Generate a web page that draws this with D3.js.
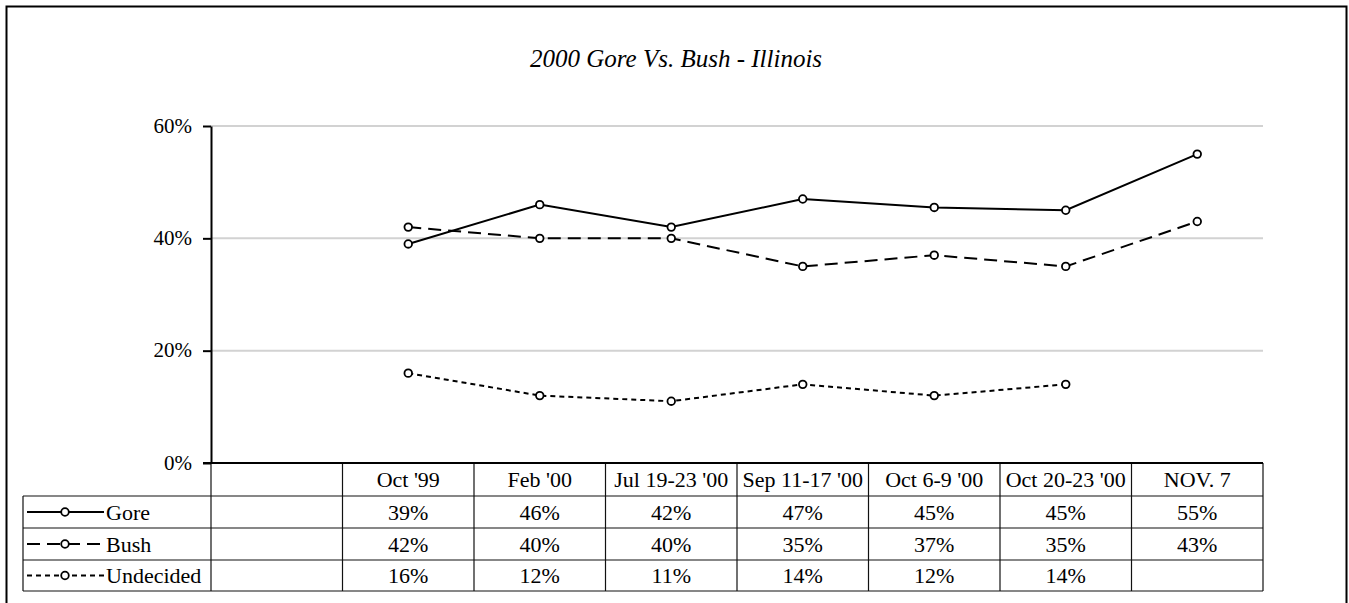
<!DOCTYPE html>
<html>
<head>
<meta charset="utf-8">
<script src="https://cdn.jsdelivr.net/npm/d3@7"></script>
<style>
  html, body { margin: 0; padding: 0; background: #fff; }
  svg { display: block; font-family: "Liberation Serif", "Times New Roman", serif; }
  svg text { font-family: "Liberation Serif", "Times New Roman", serif; }
</style>
</head>
<body>
<svg id="chart" width="1349" height="603"></svg>
<script>
// ---- data ----
const title = "2000 Gore Vs. Bush - Illinois";
const categories = ["", "Oct '99", "Feb '00", "Jul 19-23 '00", "Sep 11-17 '00", "Oct 6-9 '00", "Oct 20-23 '00", "NOV. 7"];
const seriesNames = ["Gore", "Bush", "Undecided"];
const goreValues = [null, 39, 46, 42, 47, 45.5, 45, 55];
const bushValues = [null, 42, 40, 40, 35, 37, 35, 43];
const undecidedValues = [null, 16, 12, 11, 14, 12, 14, null];
const goreLabels = ["", "39%", "46%", "42%", "47%", "45%", "45%", "55%"];
const bushLabels = ["", "42%", "40%", "40%", "35%", "37%", "35%", "43%"];
const undecidedLabels = ["", "16%", "12%", "11%", "14%", "12%", "14%", ""];
const yTicks = [0, 20, 40, 60];

const series = [
  { name: seriesNames[0], values: goreValues, labels: goreLabels, dash: null },
  { name: seriesNames[1], values: bushValues, labels: bushLabels, dash: "13,7" },
  { name: seriesNames[2], values: undecidedValues, labels: undecidedLabels, dash: "5,4" }
];

// ---- layout ----
const svg = d3.select("#chart");
const plotLeft = 211, plotRight = 1263, plotTop = 126, plotBottom = 463;
const tableLeft = 23;
const rowEdges = [463, 496, 528, 560, 591];
const tableFont = 22;

const x = d3.scaleBand().domain(categories).range([plotLeft, plotRight]).padding(0);
const y = d3.scaleLinear().domain([0, 60]).range([plotBottom, plotTop]);

// outer border
svg.append("rect")
  .attr("x", 6.5).attr("y", 6.5).attr("width", 1340).attr("height", 620)
  .attr("fill", "none").attr("stroke", "#000").attr("stroke-width", 2);

// title
svg.append("text")
  .attr("x", 676).attr("y", 67)
  .attr("text-anchor", "middle")
  .attr("font-style", "italic")
  .attr("font-size", 25)
  .text(title);

// gridlines
svg.append("g").selectAll("line")
  .data(yTicks.filter(d => d > 0))
  .join("line")
  .attr("x1", plotLeft).attr("x2", plotRight)
  .attr("y1", d => y(d)).attr("y2", d => y(d))
  .attr("stroke", "#d2d2d2").attr("stroke-width", 2);

// y axis
const yAxis = d3.axisLeft(y).tickValues(yTicks).tickFormat(d => d + "%").tickSize(8).tickSizeOuter(0);
const gy = svg.append("g").attr("transform", `translate(${plotLeft},0)`).call(yAxis);
gy.attr("font-family", null);
gy.select(".domain").attr("stroke", "#000").attr("stroke-width", 2);
gy.selectAll(".tick line").attr("stroke", "#000").attr("stroke-width", 2);
gy.selectAll(".tick text")
  .attr("font-size", 21).attr("fill", "#000").attr("x", -19).attr("dy", "0.3em");

// table grid
const tg = svg.append("g").attr("stroke", "#111").attr("stroke-width", 1.2);
rowEdges.slice(1).forEach(ry => {
  tg.append("line").attr("x1", tableLeft).attr("x2", plotRight).attr("y1", ry).attr("y2", ry);
});
tg.append("line").attr("x1", tableLeft).attr("x2", tableLeft).attr("y1", rowEdges[1]).attr("y2", rowEdges[4]);
categories.forEach(c => {
  tg.append("line").attr("x1", x(c)).attr("x2", x(c)).attr("y1", plotBottom).attr("y2", rowEdges[4]);
});
tg.append("line").attr("x1", plotRight).attr("x2", plotRight).attr("y1", plotBottom).attr("y2", rowEdges[4]);

// x axis line
svg.append("line")
  .attr("x1", plotLeft - 8).attr("x2", plotRight)
  .attr("y1", plotBottom).attr("y2", plotBottom)
  .attr("stroke", "#000").attr("stroke-width", 2);

// header labels
svg.append("g").selectAll("text")
  .data(categories.filter(c => c !== ""))
  .join("text")
  .attr("x", d => x(d) + x.bandwidth() / 2)
  .attr("y", (rowEdges[0] + rowEdges[1]) / 2)
  .attr("dy", "0.35em")
  .attr("text-anchor", "middle")
  .attr("font-size", tableFont)
  .text(d => d);

// series rows in table
series.forEach((s, i) => {
  const top = rowEdges[i + 1], bot = rowEdges[i + 2];
  const cy = (top + bot) / 2;
  const g = svg.append("g");
  g.selectAll("text.val")
    .data(categories.map((c, j) => ({ c, t: s.labels[j] })).filter(d => d.t !== ""))
    .join("text")
    .attr("x", d => x(d.c) + x.bandwidth() / 2)
    .attr("y", cy).attr("dy", "0.35em")
    .attr("text-anchor", "middle")
    .attr("font-size", tableFont)
    .text(d => d.t);
  // legend key
  g.append("line")
    .attr("x1", 27).attr("x2", 104).attr("y1", cy).attr("y2", cy)
    .attr("stroke", "#000").attr("stroke-width", 2)
    .attr("stroke-dasharray", s.dash);
  g.append("circle")
    .attr("cx", 65).attr("cy", cy).attr("r", 3.8)
    .attr("fill", "#fff").attr("stroke", "#000").attr("stroke-width", 1.8);
  g.append("text")
    .attr("x", 106).attr("y", cy).attr("dy", "0.35em")
    .attr("font-size", tableFont)
    .text(s.name);
});

// lines
const line = d3.line()
  .defined(d => d.v !== null)
  .x(d => x(d.c) + x.bandwidth() / 2)
  .y(d => y(d.v));

series.forEach(s => {
  const pts = categories.map((c, j) => ({ c, v: s.values[j] }));
  svg.append("path")
    .datum(pts)
    .attr("fill", "none")
    .attr("stroke", "#000").attr("stroke-width", 2)
    .attr("stroke-dasharray", s.dash)
    .attr("d", line);
  svg.append("g").selectAll("circle")
    .data(pts.filter(d => d.v !== null))
    .join("circle")
    .attr("cx", d => x(d.c) + x.bandwidth() / 2)
    .attr("cy", d => y(d.v))
    .attr("r", 3.8)
    .attr("fill", "#fff").attr("stroke", "#000").attr("stroke-width", 1.8);
});
</script>
</body>
</html>
